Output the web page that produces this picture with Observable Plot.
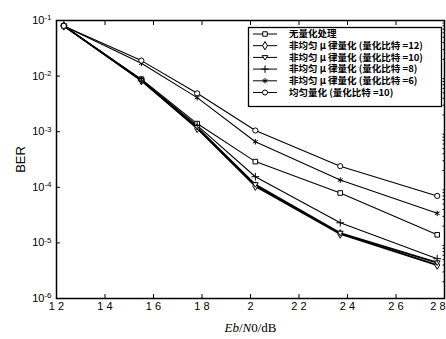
<!DOCTYPE html>
<html><head><meta charset="utf-8">
<script src="https://cdn.jsdelivr.net/npm/d3@7"></script>
<script src="https://cdn.jsdelivr.net/npm/@observablehq/plot@0.6"></script>
<style>
body{margin:0;background:#fff}
#wrap{position:relative;width:446px;height:339px}
#legend{position:absolute;left:0;top:0}
</style></head>
<body><div id="wrap"></div>
<script>
// ---- data ----
const ebn0 = [12.3, 15.5, 17.8, 20.2, 23.7, 27.7];
const seriesNames = [
  "无量化处理",
  "非均匀μ律量化(量化比特=12)",
  "非均匀μ律量化(量化比特=10)",
  "非均匀μ律量化(量化比特=8)",
  "非均匀μ律量化(量化比特=6)",
  "均匀量化(量化比特=10)"
];
const legendLabels = [
  "无量化处理",
  "非均匀 μ 律量化 (量化比特 =12)",
  "非均匀 μ 律量化 (量化比特 =10)",
  "非均匀 μ 律量化 (量化比特 =8)",
  "非均匀 μ 律量化 (量化比特 =6)",
  "均匀量化 (量化比特 =10)"
];
const berNoQuant = [0.08, 0.0088, 0.0014, 2.9e-4, 7.9e-5, 1.4e-5];
const berMu12    = [0.08, 0.0083, 0.00115, 1.05e-4, 1.45e-5, 4.0e-6];
const berMu10    = [0.08, 0.0084, 0.0012, 1.12e-4, 1.5e-5, 4.4e-6];
const berMu8     = [0.08, 0.0085, 0.0013, 1.55e-4, 2.3e-5, 5.2e-6];
const berMu6     = [0.08, 0.017, 0.0041, 6.6e-4, 1.35e-4, 3.4e-5];
const berUni10   = [0.08, 0.019, 0.0049, 1.05e-3, 2.4e-4, 7.0e-5];
const xTicks = [12, 14, 16, 18, 20, 22, 24, 26, 28];
const xTickLabels = ["1 2", "1 4", "1 6", "1 8", "2", "2 2", "2 4", "2 6", "2 8"];
const yTicks = [1e-6, 1e-5, 1e-4, 1e-3, 1e-2, 1e-1];

// ---- build table ----
const allSeries = [berNoQuant, berMu12, berMu10, berMu8, berMu6, berUni10];
const rows = [];
allSeries.forEach((arr, i) => arr.forEach((v, j) => rows.push({series: seriesNames[i], x: ebn0[j], y: v})));

const triDown = {draw(ctx, size){ const s = Math.sqrt(size) * 0.62; ctx.moveTo(-s, -s*0.65); ctx.lineTo(s, -s*0.65); ctx.lineTo(0, s*0.95); ctx.closePath(); }};
const symbols = ["square", "diamond", triDown, "plus", "asterisk", "circle"];
const widths = [1.1, 1.8, 1.8, 1.1, 1.1, 1.1];

const minor = [];
for (let e = -6; e < -1; e++) for (let k = 2; k <= 9; k++) minor.push(k * Math.pow(10, e));

const plot = Plot.plot({
  width: 446, height: 339,
  marginTop: 20, marginBottom: 41, marginLeft: 56, marginRight: 2,
  style: {fontFamily: "'Liberation Sans', Arial, sans-serif", fontSize: "11px", color: "#000", background: "#fff"},
  x: {type: "linear", domain: [12, 28]},
  y: {type: "log", domain: [1e-6, 1e-1]},
  symbol: {domain: seriesNames, range: symbols},
  marks: [
    Plot.axisX({ticks: xTicks, tickSize: 0, tickPadding: 4, tickFormat: d => xTickLabels[xTicks.indexOf(d)], label: "Eb/N0/dB", labelAnchor: "center", labelArrow: false, labelOffset: 33}),
    Plot.axisX({ticks: xTicks, tickSize: -4, tickFormat: () => "", label: null}),
    Plot.axisX({ticks: xTicks, anchor: "top", tickSize: -4, tickFormat: () => "", label: null}),
    Plot.axisY({ticks: yTicks, tickSize: 0, tickPadding: 5, tickFormat: d => "10^" + Math.round(Math.log10(d)), label: "BER", labelAnchor: "center", labelArrow: false, labelOffset: 41}),
    Plot.axisY({ticks: yTicks, tickSize: -4, tickFormat: () => "", label: null}),
    Plot.axisY({ticks: minor, anchor: "right", tickSize: -2.5, tickFormat: () => "", label: null}),
    ...seriesNames.map((name, i) => Plot.line(rows.filter(r => r.series === name), {x: "x", y: "y", stroke: "#000", strokeWidth: widths[i]})),
    Plot.dot(rows, {x: "x", y: "y", symbol: "series", r: 2.6, stroke: "#000", fill: "#fff", strokeWidth: 1}),
    Plot.frame({stroke: "#000", strokeWidth: 1.5})
  ]
});
document.getElementById("wrap").appendChild(plot);

// superscript y tick labels
d3.select(plot).selectAll('g[aria-label="y-axis tick label"] text').each(function(){
  const t = d3.select(this); const s = t.text();
  if (!s.startsWith("10^")) return;
  t.text(null);
  t.append("tspan").text("10");
  t.append("tspan").attr("dy", "-0.45em").attr("font-size", "8px").text(s.slice(3));
});
// last x tick label kept inside the picture
d3.select(plot).selectAll('g[aria-label="x-axis tick label"] text').each(function(){
  const t = d3.select(this);
  if (t.text() === "2 8") t.attr("text-anchor", "end").attr("dx", 1);
});
d3.select(plot).selectAll('g[aria-label="y-axis label"] text').attr("font-size", "13px");
// italic x label
d3.select(plot).selectAll('g[aria-label="x-axis label"] text').each(function(){
  const t = d3.select(this); t.text(null);
  t.attr("font-family", "'Liberation Serif', 'Times New Roman', serif").attr("font-size", "13px");
  t.append("tspan").attr("font-style", "italic").text("Eb");
  t.append("tspan").text("/");
  t.append("tspan").attr("font-style", "italic").text("N");
  t.append("tspan").text("0/dB");
});

// legend overlay
const lg = d3.select("#wrap").append("svg").attr("id", "legend").attr("width", 446).attr("height", 339);
lg.append("rect").attr("x", 248.5).attr("y", 27.5).attr("width", 193).attr("height", 79).attr("fill", "#fff").attr("stroke", "#000").attr("stroke-width", 1.3);
legendLabels.forEach((lab, i) => {
  const cy = 34 + i * 11.7;
  lg.append("line").attr("x1", 253).attr("x2", 277).attr("y1", cy).attr("y2", cy).attr("stroke", "#000").attr("stroke-width", 1);
  const sym = symbols[i];
  const d3sym = typeof sym === "string" ? ({square: d3.symbolSquare, diamond: d3.symbolDiamond, plus: d3.symbolPlus, asterisk: d3.symbolAsterisk, circle: d3.symbolCircle})[sym] : sym;
  lg.append("path").attr("transform", `translate(265,${cy})`).attr("d", d3.symbol(d3sym, 20)()).attr("fill", "#fff").attr("stroke", "#000").attr("stroke-width", 1);
  lg.append("text").attr("x", 289).attr("y", cy).attr("dy", "0.35em")
    .attr("font-family", "'Noto Sans CJK SC', sans-serif").attr("font-size", "9.5px").attr("font-weight", "bold")
    .text(lab);
});
</script>
</body></html>
